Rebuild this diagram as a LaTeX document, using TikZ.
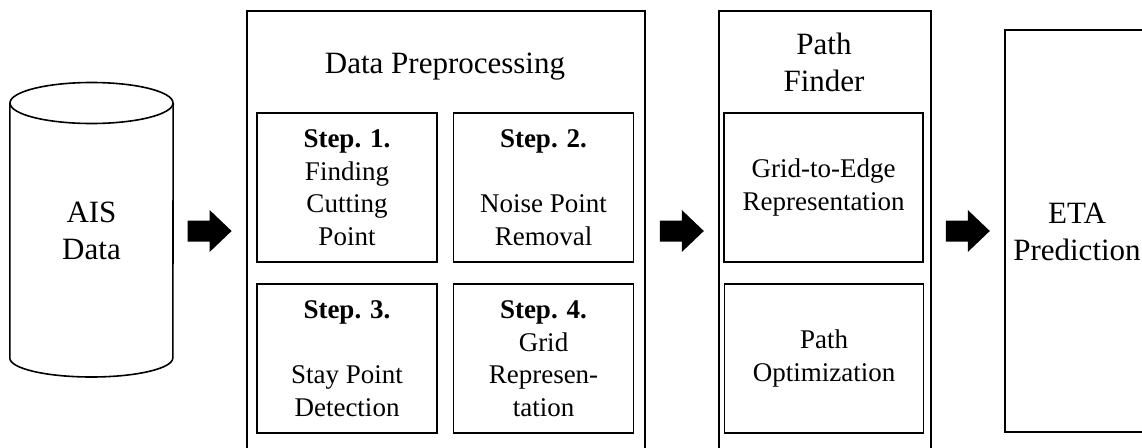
\documentclass[tikz,border=0pt]{standalone}
\usepackage{fontspec}
\setmainfont{Liberation Serif}
\usetikzlibrary{calc}

\tikzset{
  frame/.style={draw, line width=1.6pt, anchor=north west, inner sep=0pt},
  stepbox/.style={draw, line width=1.6pt, minimum width=180pt, minimum height=149pt,
    align=center, inner sep=0pt, font=\fontsize{27}{32.5}\selectfont},
  subbox/.style={draw, line width=1.6pt, minimum width=199pt, minimum height=149pt,
    align=center, inner sep=0pt, font=\fontsize{27}{33.5}\selectfont},
  bigtext/.style={align=center, inner sep=0pt, font=\fontsize{31}{37}\selectfont},
  blockarrow/.style={fill=black},
}

\begin{document}
\begin{tikzpicture}[x=1pt, y=-1pt]
\useasboundingbox (0,0) rectangle (1142,447);
\clip (0,0) rectangle (1142,447);

% AIS data store (cylinder)
\node[bigtext, minimum width=163pt, minimum height=294pt] (ais) at (91.5,231) {AIS\\Data};
\draw[line width=1.6pt] (ais.north west |- 0,103) -- (ais.south west |- 0,358)
  arc[start angle=180, end angle=0, x radius=81.5, y radius=19]
  -- (ais.north east |- 0,103);
\draw[line width=1.6pt] (91.5,103) ellipse[x radius=81.5, y radius=20.5];

% Data preprocessing stage
\node[frame, minimum width=398pt, minimum height=500pt] (prep) at (246,10) {};
\node[bigtext, anchor=base] (preptitle) at (445,73) {Data Preprocessing};
\node[stepbox] (s1) at (347,187.5) {\textbf{Step. 1.}\\Finding\\Cutting\\Point};
\node[stepbox] (s2) at (543.5,187.5) {\textbf{Step. 2.}\\\mbox{}\\Noise Point\\Removal};
\node[stepbox] (s3) at (347,358.5) {\textbf{Step. 3.}\\\mbox{}\\Stay Point\\Detection};
\node[stepbox] (s4) at (543.5,358.5) {\textbf{Step. 4.}\\Grid\\Represen-\\tation};

% Path finder stage
\node[frame, minimum width=212pt, minimum height=500pt] (pf) at (718,10) {};
\node[bigtext] (pftitle) at (824,62) {Path\\Finder};
\node[subbox] (g2e) at (823.5,187.5) {Grid-to-Edge\\Representation};
\node[subbox] (popt) at (824,358.5) {Path\\Optimization};

% ETA prediction stage
\node[frame, minimum width=200pt, minimum height=402pt] (eta) at (1004,29) {};
\node[bigtext] (etatext) at (1077,232) {ETA\\Prediction};

% Block arrows between the stages
\coordinate (a1) at ($(ais.east)!0.5!(ais.east -| prep.west)$);
\coordinate (a2) at ($(ais.east -| prep.east)!0.5!(ais.east -| pf.west)$);
\coordinate (a3) at ($(ais.east -| pf.east)!0.5!(ais.east -| eta.west)$);
\foreach \c in {a1,a2,a3}{
  \fill[blockarrow] ($(\c)+(-22,-10.5)$) -- ($(\c)+(0,-10.5)$) -- ($(\c)+(0,-21)$)
    -- ($(\c)+(22,0)$) -- ($(\c)+(0,21)$) -- ($(\c)+(0,10.5)$)
    -- ($(\c)+(-22,10.5)$) -- cycle;
}
\end{tikzpicture}
\end{document}
